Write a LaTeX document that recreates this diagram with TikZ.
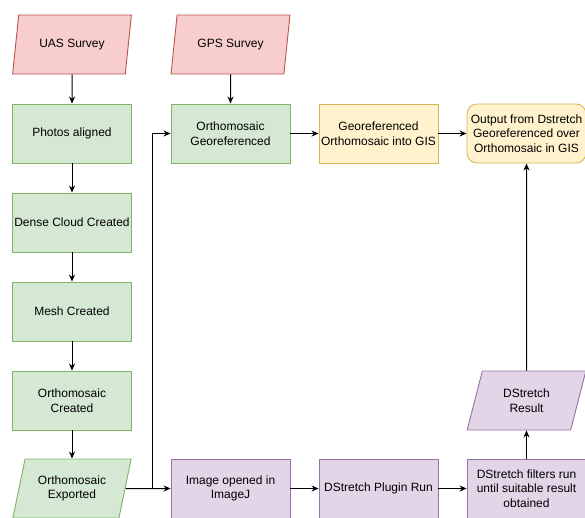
\documentclass[tikz,border=0pt]{standalone}
\usepackage{fontspec}
\setmainfont{Liberation Sans}
\usetikzlibrary{shapes.geometric,arrows.meta}
\definecolor{redfill}{HTML}{F8CECC}
\definecolor{redline}{HTML}{B85450}
\definecolor{greenfill}{HTML}{D5E8D4}
\definecolor{greenline}{HTML}{82B366}
\definecolor{yellowfill}{HTML}{FFF2CC}
\definecolor{yellowline}{HTML}{D6B656}
\definecolor{purplefill}{HTML}{E1D5E7}
\definecolor{purpleline}{HTML}{9673A6}
\begin{document}
\begin{tikzpicture}
        [
            x=1pt, y=-1pt,
            font=\fontsize{12}{14.5}\selectfont,
            box/.style={rectangle, draw, line width=0.9pt, minimum width=119pt, minimum height=59pt, align=center, inner sep=2pt},
            datain/.style={trapezium, trapezium left angle=71, trapezium right angle=109, trapezium stretches=true, draw, line width=0.9pt, minimum width=119pt, minimum height=59pt, align=center, inner sep=0pt},
            redbox/.style={fill=redfill, draw=redline},
            greenbox/.style={fill=greenfill, draw=greenline},
            yellowbox/.style={fill=yellowfill, draw=yellowline},
            purplebox/.style={fill=purplefill, draw=purpleline},
            arr/.style={-{Stealth[length=7pt, width=6pt]}, line width=1pt}
        ]
        \useasboundingbox (0,0) rectangle (585,517);
        \clip (0,0) rectangle (585,517);
        % UAS branch
        \node[datain, redbox] (uas) at (72,44.5) {UAS Survey};
        \node[box, greenbox] (photos) at (72,133.5) {Photos aligned};
        \node[box, greenbox] (dense) at (72,222.5) {Dense Cloud Created};
        \node[box, greenbox] (mesh) at (72,311.5) {Mesh Created};
        \node[box, greenbox] (orthoc) at (72,400.5) {Orthomosaic\\Created};
        \node[datain, greenbox] (orthoe) at (72,488.5) {Orthomosaic\\Exported};
        % GPS branch
        \node[datain, redbox] (gps) at (230.5,44.5) {GPS Survey};
        \node[box, greenbox] (georef) at (230.5,133.5) {Orthomosaic\\Georeferenced};
        \node[box, yellowbox] (gis) at (378.5,133.5) {Georeferenced\\Orthomosaic into GIS};
        \node[box, yellowbox, rounded corners=10pt] (output) at (526.5,133.5) {Output from Dstretch\\Georeferenced over\\Orthomosaic in GIS};
        % DStretch
        \node[box, purplebox] (imagej) at (230.5,488.5) {Image opened in\\ImageJ};
        \node[box, purplebox] (plugin) at (378.5,488.5) {DStretch Plugin Run};
        \node[box, purplebox] (filters) at (526.5,488.5) {DStretch filters run\\until suitable result\\obtained};
        \node[datain, purplebox] (result) at (526.5,400.5) {DStretch\\Result};
        \coordinate (split) at (152,488.5);
        % arrows
        \draw[arr] (uas) -- (photos);
        \draw[arr] (photos) -- (dense);
        \draw[arr] (dense) -- (mesh);
        \draw[arr] (mesh) -- (orthoc);
        \draw[arr] (orthoc) -- (orthoe);
        \draw[arr] (orthoe) -- (imagej);
        \draw[arr] (split) |- (georef);
        \draw[arr] (gps) -- (georef);
        \draw[arr] (georef) -- (gis);
        \draw[arr] (gis) -- (output);
        \draw[arr] (imagej) -- (plugin);
        \draw[arr] (plugin) -- (filters);
        \draw[arr] (filters) -- (result);
        \draw[arr] (result) -- (output);
    \end{tikzpicture}
\end{document}
